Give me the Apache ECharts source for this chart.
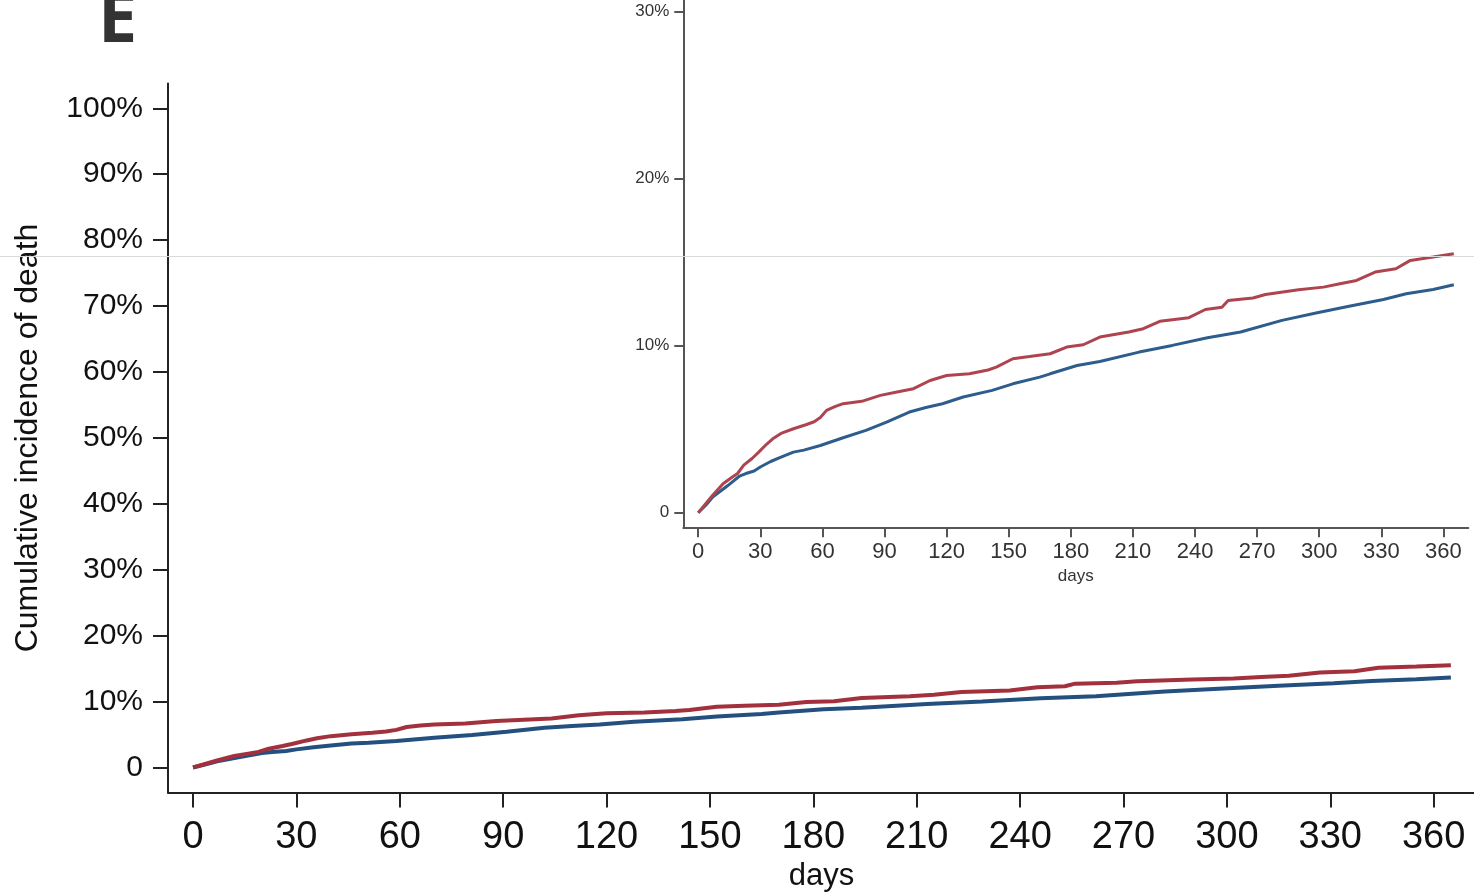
<!DOCTYPE html>
<html>
<head>
<meta charset="utf-8">
<script src="https://cdn.jsdelivr.net/npm/echarts@6.0.0/dist/echarts.min.js"></script>
<style>
html,body{margin:0;padding:0;background:#fff;}
#chart{width:1474px;height:895px;}
</style>
</head>
<body>
<div id="chart"></div>
<script>
// ---- data (days, cumulative incidence in %) ----
const redDays = [0,3,7,12,16,19,22,26,29,33,36,40,46,52,56,59,62,66,70,79,88,96,104,112,120,131,140,144,152,160,170,178,186,194,208,215,223,237,245,253,256,268,274,290,302,310,318,327,337,344,355,365];
const redPct  = [0,0.45,1.05,1.74,2.1,2.35,2.85,3.25,3.6,4.1,4.43,4.75,5.03,5.27,5.45,5.7,6.13,6.35,6.53,6.67,7.03,7.23,7.43,7.92,8.22,8.32,8.55,8.72,9.22,9.35,9.52,9.92,10.06,10.52,10.82,11.02,11.46,11.68,12.17,12.31,12.71,12.86,13.07,13.35,13.51,13.71,13.91,14.41,14.61,15.11,15.31,15.51];
const blueDays = [0,4,7,14,20,23,27,30,35,40,46,51,59,70,81,91,102,110,118,128,142,152,165,170,183,194,213,229,246,262,282,299,315,331,342,355,365];
const bluePct  = [0,0.5,0.94,1.6,2.2,2.35,2.5,2.74,3.07,3.33,3.63,3.75,4.03,4.49,4.93,5.43,6.03,6.3,6.53,6.93,7.33,7.72,8.12,8.32,8.82,9.06,9.62,10.02,10.48,10.82,11.52,11.98,12.38,12.77,13.11,13.37,13.65];

const xTicks = [0,30,60,90,120,150,180,210,240,270,300,330,360];
const mainYTicks = [0,10,20,30,40,50,60,70,80,90,100];
const insetYTicks = [0,10,20,30];

const panelLabel = 'E';
const yTitle = 'Cumulative incidence of death';
const xTitle = 'days';

const pctFmt = v => v === 0 ? '0' : v + '%';
const pairs = (xs, ys) => xs.map((x, i) => [x, ys[i]]);

const FONT = '"Liberation Sans", Arial, Helvetica, sans-serif';
const RED = '#a3313d', BLUE = '#23507f';
const RED2 = '#ae4450', BLUE2 = '#2c5d8c';

const chart = echarts.init(document.getElementById('chart'));
chart.setOption({
  animation: false,
  backgroundColor: '#fff',
  textStyle: { fontFamily: FONT },
  grid: [
    { left: 168, top: 83.5, width: 1307, height: 709, show: false, containLabel: false, outerBoundsMode: 'none' },
    { left: 683.3, top: 0, width: 785, height: 527.3, show: false, containLabel: false, outerBoundsMode: 'none' }
  ],
  xAxis: [
    {
      gridIndex: 0, type: 'value', min: -7.25, max: 372,
      splitLine: { show: false },
      axisLine: { show: true, onZero: false, lineStyle: { color: '#222', width: 2 } },
      axisTick: { show: true, length: 15, customValues: xTicks, lineStyle: { color: '#222', width: 2 } },
      axisLabel: { customValues: xTicks, fontSize: 38, color: '#111', margin: 26, fontFamily: FONT },
      name: xTitle, nameLocation: 'middle', nameGap: 68,
      nameTextStyle: { fontSize: 31, color: '#111', fontFamily: FONT }
    },
    {
      gridIndex: 1, type: 'value', min: -7.2, max: 372,
      splitLine: { show: false },
      axisLine: { show: true, onZero: false, lineStyle: { color: '#555', width: 2 } },
      axisTick: { show: true, length: 10, customValues: xTicks, lineStyle: { color: '#555', width: 2 } },
      axisLabel: { customValues: xTicks, fontSize: 22, color: '#333', margin: 14, fontFamily: FONT },
      name: xTitle, nameLocation: 'middle', nameGap: 40,
      nameTextStyle: { fontSize: 17, color: '#333', fontFamily: FONT }
    }
  ],
  yAxis: [
    {
      gridIndex: 0, type: 'value', min: -3.8, max: 103.76,
      splitLine: { show: false },
      axisLine: { show: true, onZero: false, lineStyle: { color: '#222', width: 2 } },
      axisTick: { show: true, length: 15, customValues: mainYTicks, lineStyle: { color: '#222', width: 2 } },
      axisLabel: { customValues: mainYTicks, formatter: pctFmt, fontSize: 30, color: '#111', margin: 25, fontFamily: FONT },
      name: yTitle, nameLocation: 'middle', nameGap: 124,
      nameTextStyle: { fontSize: 32, color: '#111', fontFamily: FONT }
    },
    {
      gridIndex: 1, type: 'value', min: -0.87, max: 30.7,
      splitLine: { show: false },
      axisLine: { show: true, onZero: false, lineStyle: { color: '#555', width: 2 } },
      axisTick: { show: true, length: 9, customValues: insetYTicks, lineStyle: { color: '#555', width: 2 } },
      axisLabel: { customValues: insetYTicks, formatter: pctFmt, fontSize: 17, color: '#333', margin: 14, fontFamily: FONT }
    }
  ],
  series: [
    { type: 'line', xAxisIndex: 0, yAxisIndex: 0, data: pairs(blueDays, bluePct), showSymbol: false, lineStyle: { color: BLUE, width: 4 }, z: 2 },
    { type: 'line', xAxisIndex: 0, yAxisIndex: 0, data: pairs(redDays, redPct), showSymbol: false, lineStyle: { color: RED, width: 4 }, z: 3 },
    { type: 'line', xAxisIndex: 1, yAxisIndex: 1, data: pairs(blueDays, bluePct), showSymbol: false, lineStyle: { color: BLUE2, width: 3 }, z: 4 },
    { type: 'line', xAxisIndex: 1, yAxisIndex: 1, data: pairs(redDays, redPct), showSymbol: false, lineStyle: { color: RED2, width: 3 }, z: 5 }
  ],
  graphic: [
    { type: 'text', left: 98, top: -13, z: 10,
      style: { text: panelLabel, fontSize: 70, fontWeight: 'bold', fill: '#333', fontFamily: '"Open Sans", "Liberation Sans", sans-serif' } },
    { type: 'line', z: 100, shape: { x1: 0, y1: 256.5, x2: 1474, y2: 256.5 }, style: { stroke: '#d9d9d9', lineWidth: 1 } }
  ]
});
</script>
</body>
</html>
